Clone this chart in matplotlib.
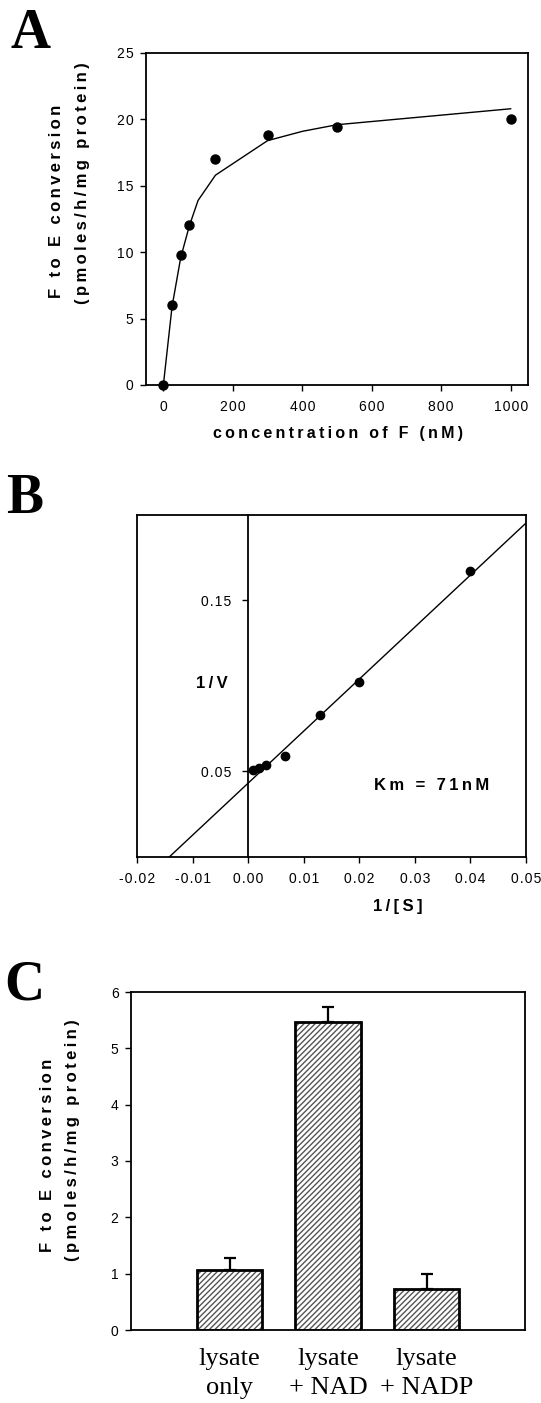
import numpy as np
import matplotlib
matplotlib.use("Agg")
import matplotlib.pyplot as plt
from matplotlib.ticker import FuncFormatter

# -------- DATA --------
# panel A: substrate saturation
conc_nM = [0, 25, 50, 75, 150, 300, 500, 1000]
rate = [0.0, 6.0, 9.8, 12.05, 17.0, 18.8, 19.4, 20.0]
fit_conc = [0, 25, 50, 75, 100, 150, 300, 400, 500, 1000]
fit_rate = [0.0, 5.9, 9.6, 12.0, 13.9, 15.8, 18.4, 19.1, 19.6, 20.8]

# panel B: double reciprocal plot
inv_s = [0.0399, 0.0199, 0.0129, 0.0066, 0.0033, 0.0019, 0.0009]
inv_v = [0.167, 0.1025, 0.083, 0.0592, 0.0538, 0.052, 0.0509]
lb_line_x = [-0.0142, 0.05]
lb_line_y = [0.0, 0.1953]
km_text = "Km = 71nM"

# panel C: cofactor dependence
groups = ["lysate\nonly", "lysate\n+ NAD", "lysate\n+ NADP"]
activity = [1.07, 5.47, 0.72]
activity_err = [0.21, 0.27, 0.28]

W, H = 541, 1403
SANS = ["Liberation Sans", "DejaVu Sans"]
SERIF = ["Liberation Serif", "DejaVu Serif"]
plt.rcParams["axes.unicode_minus"] = False
plt.rcParams["font.family"] = SANS


def sp(s, gap="\u2009"):
    # the original uses loosely tracked lettering
    return gap.join(s)


def tick_fmt(fmt):
    return FuncFormatter(lambda v, p: sp(format(v, fmt), "\u200a"))


def fx(px):
    return px / W


def fy(py):
    return 1 - py / H


def box(l, t, r, b):
    return [fx(l), fy(b), (r - l) / W, (b - t) / H]


def style_axes(ax, lw=1.3):
    for s in ax.spines.values():
        s.set_linewidth(lw)
    ax.tick_params(direction="out", length=4, width=1, labelsize=10, pad=5)


fig = plt.figure(figsize=(W / 100, H / 100), dpi=100)

# -------- PANEL A --------
axA = fig.add_axes(box(146, 53, 528, 385))
axA.plot(fit_conc, fit_rate, color="k", lw=1.0)
axA.plot(conc_nM, rate, "o", color="k", ms=6.5, clip_on=False, zorder=3)
axA.set_xlim(-50, 1050)
axA.set_ylim(0, 25)
axA.set_xticks(np.arange(0, 1001, 200))
axA.set_yticks(np.arange(0, 26, 5))
style_axes(axA)
axA.tick_params(axis="x", pad=7)
axA.xaxis.set_major_formatter(tick_fmt("g"))
axA.yaxis.set_major_formatter(tick_fmt("g"))

fig.text(fx(57), fy(201), sp("F to E conversion"), rotation=90, ha="center",
         va="center", fontsize=12, fontweight="bold")
fig.text(fx(82), fy(183), sp("(pmoles/h/mg protein)"), rotation=90, ha="center",
         va="center", fontsize=12, fontweight="bold")
fig.text(fx(338), fy(433), sp("concentration of F (nM)"), ha="center", va="center",
         fontsize=11.5, fontweight="bold")

# -------- PANEL B --------
axB = fig.add_axes(box(137, 515, 526, 857))
axB.plot(lb_line_x, lb_line_y, color="k", lw=1.0)
axB.plot(inv_s, inv_v, "o", color="k", ms=6, zorder=3)
axB.set_xlim(-0.02, 0.05)
axB.set_ylim(0, 0.2)
axB.spines["left"].set_position(("data", 0))
axB.plot([0, 0], [0, 1], transform=axB.transAxes, color="k", lw=1.3, clip_on=False)
axB.set_xticks(np.arange(-0.02, 0.0501, 0.01))
axB.set_yticks([0.05, 0.15])
style_axes(axB)
axB.tick_params(axis="y", pad=8)
axB.tick_params(axis="x", pad=7)
axB.xaxis.set_major_formatter(tick_fmt(".2f"))
axB.yaxis.set_major_formatter(tick_fmt(".2f"))

fig.text(fx(212), fy(683), sp("1/V"), ha="center", va="center",
         fontsize=12, fontweight="bold")
fig.text(fx(432), fy(786), sp(km_text), ha="center", va="center",
         fontsize=12, fontweight="bold")
fig.text(fx(398), fy(907), sp("1/[S]"), ha="center", va="center",
         fontsize=12, fontweight="bold")

# -------- PANEL C --------
axC = fig.add_axes(box(131, 992, 525, 1330))
pos = np.arange(1, len(activity) + 1)
axC.bar(pos, activity, width=0.67, color="white", edgecolor="#555555",
        hatch="//////", linewidth=0, zorder=2)
axC.bar(pos, activity, width=0.67, fill=False, edgecolor="k", linewidth=2.0, zorder=3)
axC.errorbar(pos, activity, yerr=[np.zeros(len(activity)), activity_err], fmt="none",
             ecolor="k", elinewidth=1.6, capsize=4, capthick=1.6, zorder=4)
axC.set_xlim(0, 4)
axC.set_ylim(0, 6)
axC.set_yticks(np.arange(0, 7, 1))
style_axes(axC)
axC.yaxis.set_major_formatter(tick_fmt("g"))
axC.set_xticks(pos)
axC.set_xticklabels(groups, family=SERIF, fontsize=19, linespacing=1.4)
axC.tick_params(axis="x", length=0, pad=13, labelsize=19)

fig.text(fx(48), fy(1155), sp("F to E conversion"), rotation=90, ha="center",
         va="center", fontsize=12, fontweight="bold")
fig.text(fx(72), fy(1140), sp("(pmoles/h/mg protein)"), rotation=90, ha="center",
         va="center", fontsize=12, fontweight="bold")

# -------- PANEL LETTERS --------
for letter, x, y in [("A", 31, 48), ("B", 25, 513), ("C", 24, 999)]:
    fig.text(fx(x), fy(y), letter, ha="center", va="baseline", fontsize=40,
             fontweight="bold", family=SERIF)

fig.savefig("out.png", dpi=100)
